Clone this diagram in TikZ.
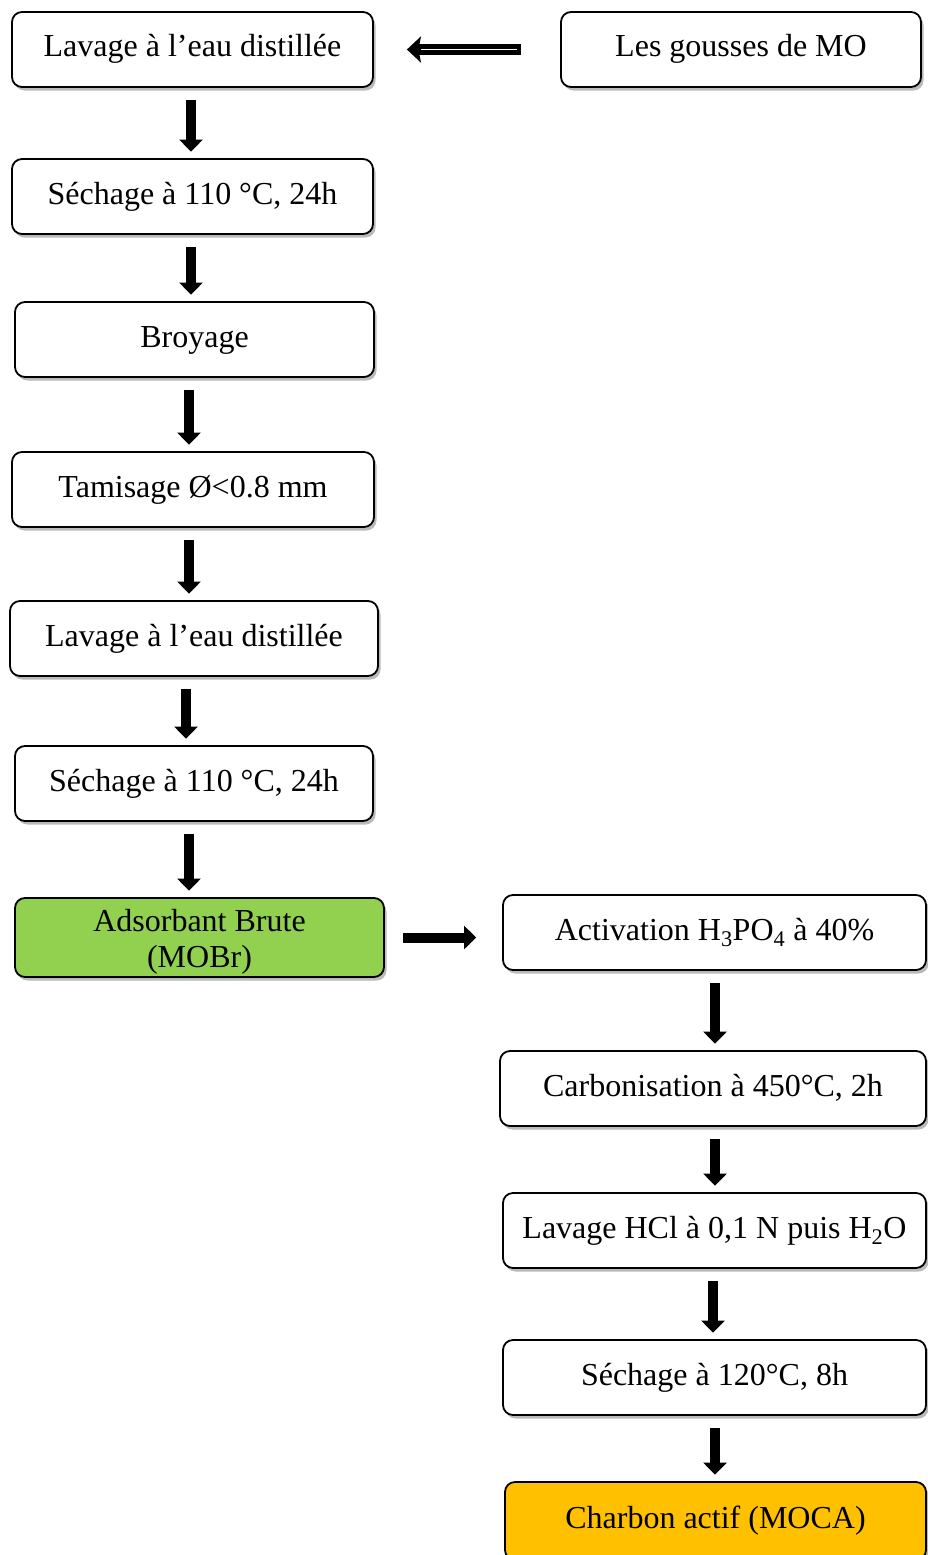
\documentclass[tikz,border=0pt]{standalone}
\usepackage{fontspec}
\setmainfont{Liberation Serif}
\usetikzlibrary{arrows.meta,shadows}
\definecolor{boxgreen}{HTML}{92D050}
\definecolor{boxorange}{HTML}{FFC000}
\tikzset{
  stepbox/.style={draw=black, line width=1.8pt, rounded corners=10pt, fill=white,
    minimum height=75pt, inner sep=0pt, align=center,
    font=\fontsize{32}{36}\selectfont,
    drop shadow={shadow xshift=2.5pt, shadow yshift=-3.5pt, fill=black!45, opacity=0.6}},
  oneline/.style={stepbox, text height=22pt, text depth=7pt},
  varr/.style={line width=10pt, -{Triangle[width=23pt,length=12pt]},
    shorten <=12pt, shorten >=6.5pt},
  harr/.style={line width=10pt, -{Triangle[width=23pt,length=12pt]}},
}
\begin{document}
\begin{tikzpicture}[x=1pt,y=-1pt]
\useasboundingbox (0,0) rectangle (928,1555);
\clip (0,0) rectangle (928,1555);
% left column
\node[oneline, minimum width=361pt] (b1) at (192.5,49.5) {Lavage à l’eau distillée};
\node[oneline, minimum width=361pt] (b2) at (192.5,196.5) {Séchage à 110 °C, 24h};
\node[oneline, minimum width=359pt] (b3) at (194.5,339.5) {Broyage};
\node[oneline, minimum width=362pt] (b4) at (193,489.5) {Tamisage Ø<0.8 mm};
\node[oneline, minimum width=368pt] (b5) at (194,638.5) {Lavage à l’eau distillée};
\node[oneline, minimum width=358pt] (b6) at (194,783.5) {Séchage à 110 °C, 24h};
\node[stepbox, minimum width=369pt, minimum height=79pt, fill=boxgreen,
      text height=67pt] (b7) at (199.5,937.5) {Adsorbant Brute\\(MOBr)};
% top right
\node[oneline, minimum width=360pt] (g) at (741,49.5) {Les gousses de MO};
% right column
\node[oneline, minimum width=423pt] (r1) at (714.5,932.5) {Activation H\textsubscript{3}PO\textsubscript{4} à 40\%};
\node[oneline, minimum width=426pt] (r2) at (713,1088.5) {Carbonisation à 450°C, 2h};
\node[oneline, minimum width=423pt] (r3) at (714.5,1230.5) {Lavage HCl à 0,1 N puis H\textsubscript{2}O};
\node[oneline, minimum width=423pt] (r4) at (714.5,1377.5) {Séchage à 120°C, 8h};
\node[oneline, minimum width=421pt, minimum height=78pt, fill=boxorange] (r5) at (715.5,1521) {Charbon actif (MOCA)};
% top arrow (double)
\draw[line width=11pt, -{Stealth[width=26pt,length=14pt,inset=2.5pt]},
      shorten <=39pt, shorten >=33pt] (g.west) -- (b1.east);
\draw[white, line width=0.9pt, shorten <=43pt, shorten >=47pt] (g.west) -- (b1.east);
% left vertical arrows
\draw[varr] ([xshift=-1.5pt]b1.south) -- ([xshift=-1.5pt]b1.south |- b2.north);
\draw[varr] ([xshift=-1.5pt]b2.south) -- ([xshift=-1.5pt]b2.south |- b3.north);
\draw[varr] ([xshift=-5.5pt]b3.south) -- ([xshift=-5.5pt]b3.south |- b4.north);
\draw[varr] ([xshift=-4pt]b4.south) -- ([xshift=-4pt]b4.south |- b5.north);
\draw[varr] ([xshift=-8pt]b5.south) -- ([xshift=-8pt]b5.south |- b6.north);
\draw[varr] ([xshift=-5pt]b6.south) -- ([xshift=-5pt]b6.south |- b7.north);
% horizontal arrow
\draw[harr, shorten <=18pt, shorten >=26pt] (b7.east) -- (b7.east -| r1.west);
% right vertical arrows
\draw[varr] ([xshift=0.5pt]r1.south) -- ([xshift=0.5pt]r1.south |- r2.north);
\draw[varr] ([xshift=2pt]r2.south) -- ([xshift=2pt]r2.south |- r3.north);
\draw[varr] ([xshift=-1.5pt]r3.south) -- ([xshift=-1.5pt]r3.south |- r4.north);
\draw[varr] ([xshift=0.5pt]r4.south) -- ([xshift=0.5pt]r4.south |- r5.north);
\end{tikzpicture}
\end{document}
